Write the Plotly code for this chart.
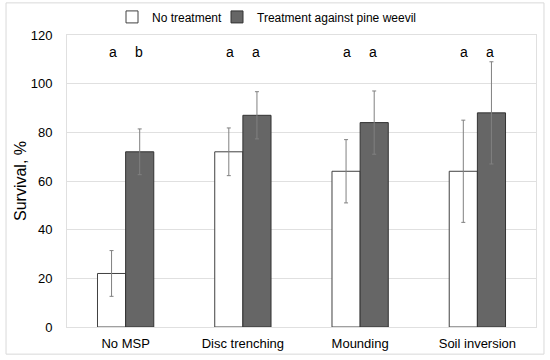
import plotly.graph_objects as go

categories = ["No MSP", "Disc trenching", "Mounding", "Soil inversion"]
series_names = ["No treatment", "Treatment against pine weevil"]
no_treatment = [22, 72, 64, 64]
no_treatment_err = [9.4, 9.8, 13, 21]
treatment = [72, 87, 84, 88]
treatment_err = [9.4, 9.7, 13, 21]
letters_no = ["a", "a", "a", "a"]
letters_tr = ["b", "a", "a", "a"]
letter_y = 113
y_ticks = [0, 20, 40, 60, 80, 100, 120]

FONT = "Liberation Sans, Arial, sans-serif"
err_style = dict(type="data", color="#808080", thickness=1, width=2)

fig = go.Figure()
fig.add_trace(go.Bar(
    x=categories, y=no_treatment, name=series_names[0], legend="legend",
    marker=dict(color="white", line=dict(color="#404040", width=1)),
    error_y=dict(array=no_treatment_err, **err_style),
))
fig.add_trace(go.Bar(
    x=categories, y=treatment, name=series_names[1], legend="legend2",
    marker=dict(color="#666666", line=dict(color="#333333", width=1)),
    error_y=dict(array=treatment_err, **err_style),
))

for c, ln, lt in zip(categories, letters_no, letters_tr):
    fig.add_annotation(x=c, y=letter_y, text=ln, showarrow=False, xshift=-13,
                       font=dict(size=14, color="black", family=FONT))
    fig.add_annotation(x=c, y=letter_y, text=lt, showarrow=False, xshift=13,
                       font=dict(size=14, color="black", family=FONT))

# outer frame
fig.add_shape(type="rect", xref="paper", yref="paper",
              x0=-0.13, x1=1.017, y0=-0.093, y1=1.11,
              line=dict(color="#d9d9d9", width=1), fillcolor="rgba(0,0,0,0)")

legend_common = dict(orientation="h", xref="container", yref="container",
                     xanchor="left", y=0.953, yanchor="middle",
                     font=dict(size=12, family=FONT), itemwidth=30,
                     bgcolor="rgba(0,0,0,0)")

fig.update_layout(
    width=550, height=360,
    margin=dict(l=67, r=14, t=35, b=33, autoexpand=False),
    paper_bgcolor="white", plot_bgcolor="white",
    barmode="group", bargap=0.52, bargroupgap=0,
    font=dict(family=FONT, size=13, color="black"),
    legend=dict(x=112 / 550, **legend_common),
    legend2=dict(x=217 / 550, **legend_common),
    showlegend=True,
)
fig.update_xaxes(showline=True, mirror=True, linecolor="#e0e0e0", linewidth=1,
                 ticks="", tickfont=dict(size=13), automargin=False,
                 ticklabelstandoff=4)
fig.update_yaxes(range=[0, 120], tickvals=y_ticks, showgrid=True, gridcolor="#e0e0e0",
                 showline=True, mirror=True, linecolor="#e0e0e0", linewidth=1,
                 zeroline=False, ticks="", tickfont=dict(size=13), automargin=False,
                 ticklabelstandoff=11,
                 title=dict(text="Survival, %", font=dict(size=16), standoff=0))

fig.write_html("out.html", config={"displayModeBar": False},
               post_script="document.body.style.margin='0';")
